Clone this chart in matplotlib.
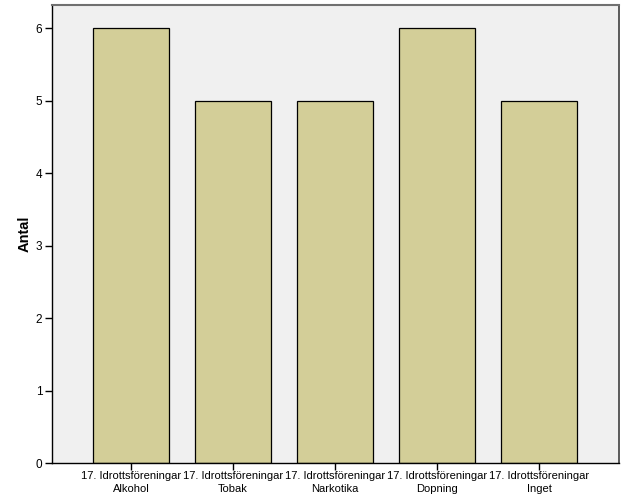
import matplotlib
matplotlib.use('Agg')
import matplotlib.pyplot as plt

categories = ['17. Idrottsföreningar\nAlkohol', '17. Idrottsföreningar\nTobak',
              '17. Idrottsföreningar\nNarkotika', '17. Idrottsföreningar\nDopning',
              '17. Idrottsföreningar\nInget']
counts = [6, 5, 5, 6, 5]

plt.rcParams['font.family'] = ['Liberation Sans', 'DejaVu Sans']

fig = plt.figure(figsize=(6.26, 5.01), dpi=100)
ax = fig.add_axes([52 / 626, 38 / 501, 567 / 626, 458 / 501])
ax.set_facecolor('#f0f0f0')

x = range(len(categories))
ax.bar(x, counts, width=0.745, color='#d3ce98', edgecolor='black', linewidth=0.9, zorder=2)

ax.set_xlim(-0.775, 4.785)
ax.set_ylim(0, 6.32)
ax.set_xticks(list(x))
ax.set_xticklabels(categories, fontsize=8, linespacing=1.3)
ax.set_yticks(range(7))
ax.tick_params(axis='y', labelsize=8.5, length=5, width=1, pad=2)
ax.tick_params(axis='x', length=5, width=1, pad=1)
ax.set_ylabel('Antal', fontsize=10.5, fontweight='bold', labelpad=3)

for s in ['left', 'bottom']:
    ax.spines[s].set_color('black')
    ax.spines[s].set_linewidth(1)
ax.spines['top'].set_color('#707070')
ax.spines['top'].set_linewidth(1.5)
ax.spines['right'].set_color('#404040')
ax.spines['right'].set_linewidth(1.2)

fig.savefig('out.png', dpi=100)
